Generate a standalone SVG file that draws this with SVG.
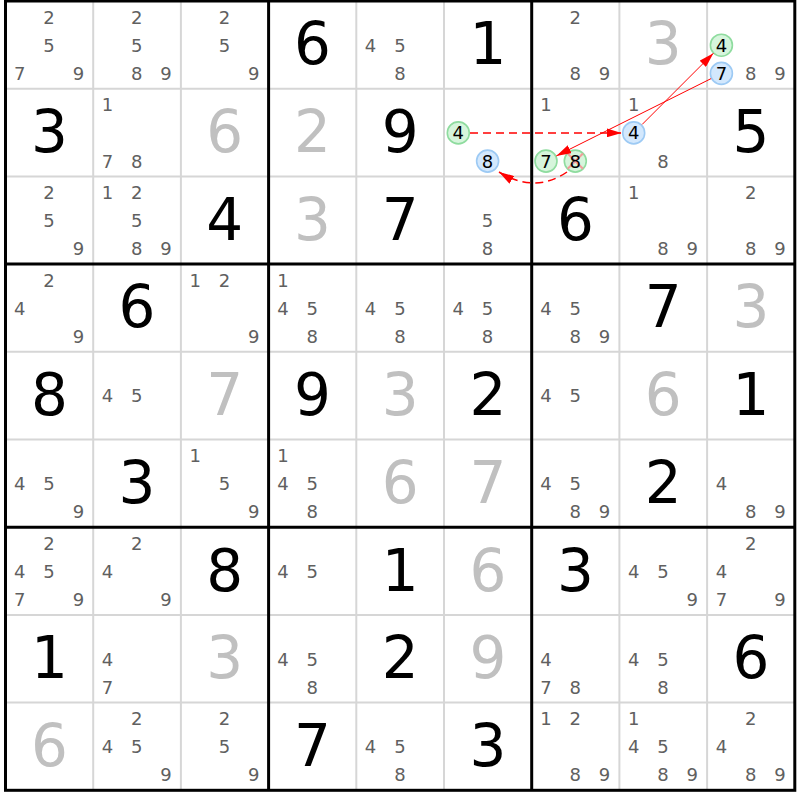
<svg xmlns="http://www.w3.org/2000/svg" width="800" height="800" viewBox="0 0 800 800">
<style>
.thin{stroke:#d6d6d6;stroke-width:2}
.thick{stroke:#000;stroke-width:3}
text{font-family:"DejaVu Sans","Liberation Sans",sans-serif}
.g{font-size:58px;fill:#000;text-anchor:middle}
.s{font-size:58px;fill:#c0c0c0;text-anchor:middle}
.c{font-size:18px;fill:#606060;text-anchor:middle}
.k{font-size:18px;fill:#000;text-anchor:middle}
.gc{fill:#d6f5dc;stroke:#8fdc9f;stroke-width:1.6}
.bc{fill:#d3e8fd;stroke:#9dcaf4;stroke-width:1.6}
.x{stroke:#f29a9a;stroke-width:2}
.ar{stroke:#ff0000;stroke-width:1;fill:none}
.ad{stroke:#ff0000;stroke-width:1.5;fill:none;stroke-dasharray:8 5}
</style>
<defs>
<marker id="ah" viewBox="0 0 15 9" refX="15" refY="4.5" markerWidth="15" markerHeight="9" markerUnits="userSpaceOnUse" orient="auto">
<path d="M0,0 L15,4.5 L0,9 z" fill="#ff0000"/>
</marker>
</defs>
<rect width="800" height="800" fill="#fff"/>
<g id="grid">
<line class="thin" x1="93.2" y1="1" x2="93.2" y2="790.3"/>
<line class="thin" x1="180.9" y1="1" x2="180.9" y2="790.3"/>
<line class="thin" x1="356.3" y1="1" x2="356.3" y2="790.3"/>
<line class="thin" x1="444" y1="1" x2="444" y2="790.3"/>
<line class="thin" x1="619.4" y1="1" x2="619.4" y2="790.3"/>
<line class="thin" x1="707.1" y1="1" x2="707.1" y2="790.3"/>
<line class="thin" x1="5.5" y1="88.7" x2="794.8" y2="88.7"/>
<line class="thin" x1="5.5" y1="176.4" x2="794.8" y2="176.4"/>
<line class="thin" x1="5.5" y1="351.8" x2="794.8" y2="351.8"/>
<line class="thin" x1="5.5" y1="439.5" x2="794.8" y2="439.5"/>
<line class="thin" x1="5.5" y1="614.9" x2="794.8" y2="614.9"/>
<line class="thin" x1="5.5" y1="702.6" x2="794.8" y2="702.6"/>
<line class="thick" x1="268.6" y1="1" x2="268.6" y2="790.3"/>
<line class="thick" x1="531.7" y1="1" x2="531.7" y2="790.3"/>
<line class="thick" x1="5.5" y1="264.1" x2="794.8" y2="264.1"/>
<line class="thick" x1="5.5" y1="527.2" x2="794.8" y2="527.2"/>
<rect x="5.5" y="1" width="789.3" height="789.3" fill="none" stroke="#000" stroke-width="3"/>
</g>
<!-- Row 1 -->
<g id="r1c1" transform="translate(5.5,1)"><text class="c" x="43.6" y="22.5">2</text><text class="c" x="43.6" y="50.7">5</text><text class="c" x="14.3" y="78.9">7</text><text class="c" x="72.9" y="78.9">9</text></g>
<g id="r1c2" transform="translate(93.2,1)"><text class="c" x="43.6" y="22.5">2</text><text class="c" x="43.6" y="50.7">5</text><text class="c" x="43.6" y="78.9">8</text><text class="c" x="72.9" y="78.9">9</text></g>
<g id="r1c3" transform="translate(180.9,1)"><text class="c" x="43.6" y="22.5">2</text><text class="c" x="43.6" y="50.7">5</text><text class="c" x="72.9" y="78.9">9</text></g>
<g id="r1c4" transform="translate(268.6,1)"><text class="g" x="43.85" y="63.35">6</text></g>
<g id="r1c5" transform="translate(356.3,1)"><text class="c" x="14.3" y="50.7">4</text><text class="c" x="43.6" y="50.7">5</text><text class="c" x="43.6" y="78.9">8</text></g>
<g id="r1c6" transform="translate(444,1)"><text class="g" x="43.85" y="63.35">1</text></g>
<g id="r1c7" transform="translate(531.7,1)"><text class="c" x="43.6" y="22.5">2</text><text class="c" x="43.6" y="78.9">8</text><text class="c" x="72.9" y="78.9">9</text></g>
<g id="r1c8" transform="translate(619.4,1)"><text class="s" x="43.85" y="63.35">3</text></g>
<g id="r1c9" transform="translate(707.1,1)"><circle class="gc" cx="14.3" cy="44.2" r="11"/><text class="k" x="14.3" y="50.7">4</text><circle class="bc" cx="14.3" cy="72.4" r="11"/><text class="k" x="14.3" y="78.9">7</text><text class="c" x="43.6" y="78.9">8</text><text class="c" x="72.9" y="78.9">9</text></g>
<!-- Row 2 -->
<g id="r2c1" transform="translate(5.5,88.7)"><text class="g" x="43.85" y="63.35">3</text></g>
<g id="r2c2" transform="translate(93.2,88.7)"><text class="c" x="14.3" y="22.5">1</text><text class="c" x="14.3" y="78.9">7</text><text class="c" x="43.6" y="78.9">8</text></g>
<g id="r2c3" transform="translate(180.9,88.7)"><text class="s" x="43.85" y="63.35">6</text></g>
<g id="r2c4" transform="translate(268.6,88.7)"><text class="s" x="43.85" y="63.35">2</text></g>
<g id="r2c5" transform="translate(356.3,88.7)"><text class="g" x="43.85" y="63.35">9</text></g>
<g id="r2c6" transform="translate(444,88.7)"><circle class="gc" cx="14.3" cy="44.2" r="11"/><text class="k" x="14.3" y="50.7">4</text><circle class="bc" cx="43.6" cy="72.4" r="11"/><text class="k" x="43.6" y="78.9">8</text></g>
<g id="r2c7" transform="translate(531.7,88.7)"><text class="c" x="14.3" y="22.5">1</text><circle class="gc" cx="14.3" cy="72.4" r="11"/><text class="k" x="14.3" y="78.9">7</text><circle class="gc" cx="43.6" cy="72.4" r="11"/><line class="x" x1="36" y1="64.8" x2="51.2" y2="80"/><line class="x" x1="51.2" y1="64.8" x2="36" y2="80"/><text class="k" x="43.6" y="78.9">8</text></g>
<g id="r2c8" transform="translate(619.4,88.7)"><text class="c" x="14.3" y="22.5">1</text><circle class="bc" cx="14.3" cy="44.2" r="11"/><text class="k" x="14.3" y="50.7">4</text><text class="c" x="43.6" y="78.9">8</text></g>
<g id="r2c9" transform="translate(707.1,88.7)"><text class="g" x="43.85" y="63.35">5</text></g>
<!-- Row 3 -->
<g id="r3c1" transform="translate(5.5,176.4)"><text class="c" x="43.6" y="22.5">2</text><text class="c" x="43.6" y="50.7">5</text><text class="c" x="72.9" y="78.9">9</text></g>
<g id="r3c2" transform="translate(93.2,176.4)"><text class="c" x="14.3" y="22.5">1</text><text class="c" x="43.6" y="22.5">2</text><text class="c" x="43.6" y="50.7">5</text><text class="c" x="43.6" y="78.9">8</text><text class="c" x="72.9" y="78.9">9</text></g>
<g id="r3c3" transform="translate(180.9,176.4)"><text class="g" x="43.85" y="63.35">4</text></g>
<g id="r3c4" transform="translate(268.6,176.4)"><text class="s" x="43.85" y="63.35">3</text></g>
<g id="r3c5" transform="translate(356.3,176.4)"><text class="g" x="43.85" y="63.35">7</text></g>
<g id="r3c6" transform="translate(444,176.4)"><text class="c" x="43.6" y="50.7">5</text><text class="c" x="43.6" y="78.9">8</text></g>
<g id="r3c7" transform="translate(531.7,176.4)"><text class="g" x="43.85" y="63.35">6</text></g>
<g id="r3c8" transform="translate(619.4,176.4)"><text class="c" x="14.3" y="22.5">1</text><text class="c" x="43.6" y="78.9">8</text><text class="c" x="72.9" y="78.9">9</text></g>
<g id="r3c9" transform="translate(707.1,176.4)"><text class="c" x="43.6" y="22.5">2</text><text class="c" x="43.6" y="78.9">8</text><text class="c" x="72.9" y="78.9">9</text></g>
<!-- Row 4 -->
<g id="r4c1" transform="translate(5.5,264.1)"><text class="c" x="43.6" y="22.5">2</text><text class="c" x="14.3" y="50.7">4</text><text class="c" x="72.9" y="78.9">9</text></g>
<g id="r4c2" transform="translate(93.2,264.1)"><text class="g" x="43.85" y="63.35">6</text></g>
<g id="r4c3" transform="translate(180.9,264.1)"><text class="c" x="14.3" y="22.5">1</text><text class="c" x="43.6" y="22.5">2</text><text class="c" x="72.9" y="78.9">9</text></g>
<g id="r4c4" transform="translate(268.6,264.1)"><text class="c" x="14.3" y="22.5">1</text><text class="c" x="14.3" y="50.7">4</text><text class="c" x="43.6" y="50.7">5</text><text class="c" x="43.6" y="78.9">8</text></g>
<g id="r4c5" transform="translate(356.3,264.1)"><text class="c" x="14.3" y="50.7">4</text><text class="c" x="43.6" y="50.7">5</text><text class="c" x="43.6" y="78.9">8</text></g>
<g id="r4c6" transform="translate(444,264.1)"><text class="c" x="14.3" y="50.7">4</text><text class="c" x="43.6" y="50.7">5</text><text class="c" x="43.6" y="78.9">8</text></g>
<g id="r4c7" transform="translate(531.7,264.1)"><text class="c" x="14.3" y="50.7">4</text><text class="c" x="43.6" y="50.7">5</text><text class="c" x="43.6" y="78.9">8</text><text class="c" x="72.9" y="78.9">9</text></g>
<g id="r4c8" transform="translate(619.4,264.1)"><text class="g" x="43.85" y="63.35">7</text></g>
<g id="r4c9" transform="translate(707.1,264.1)"><text class="s" x="43.85" y="63.35">3</text></g>
<!-- Row 5 -->
<g id="r5c1" transform="translate(5.5,351.8)"><text class="g" x="43.85" y="63.35">8</text></g>
<g id="r5c2" transform="translate(93.2,351.8)"><text class="c" x="14.3" y="50.7">4</text><text class="c" x="43.6" y="50.7">5</text></g>
<g id="r5c3" transform="translate(180.9,351.8)"><text class="s" x="43.85" y="63.35">7</text></g>
<g id="r5c4" transform="translate(268.6,351.8)"><text class="g" x="43.85" y="63.35">9</text></g>
<g id="r5c5" transform="translate(356.3,351.8)"><text class="s" x="43.85" y="63.35">3</text></g>
<g id="r5c6" transform="translate(444,351.8)"><text class="g" x="43.85" y="63.35">2</text></g>
<g id="r5c7" transform="translate(531.7,351.8)"><text class="c" x="14.3" y="50.7">4</text><text class="c" x="43.6" y="50.7">5</text></g>
<g id="r5c8" transform="translate(619.4,351.8)"><text class="s" x="43.85" y="63.35">6</text></g>
<g id="r5c9" transform="translate(707.1,351.8)"><text class="g" x="43.85" y="63.35">1</text></g>
<!-- Row 6 -->
<g id="r6c1" transform="translate(5.5,439.5)"><text class="c" x="14.3" y="50.7">4</text><text class="c" x="43.6" y="50.7">5</text><text class="c" x="72.9" y="78.9">9</text></g>
<g id="r6c2" transform="translate(93.2,439.5)"><text class="g" x="43.85" y="63.35">3</text></g>
<g id="r6c3" transform="translate(180.9,439.5)"><text class="c" x="14.3" y="22.5">1</text><text class="c" x="43.6" y="50.7">5</text><text class="c" x="72.9" y="78.9">9</text></g>
<g id="r6c4" transform="translate(268.6,439.5)"><text class="c" x="14.3" y="22.5">1</text><text class="c" x="14.3" y="50.7">4</text><text class="c" x="43.6" y="50.7">5</text><text class="c" x="43.6" y="78.9">8</text></g>
<g id="r6c5" transform="translate(356.3,439.5)"><text class="s" x="43.85" y="63.35">6</text></g>
<g id="r6c6" transform="translate(444,439.5)"><text class="s" x="43.85" y="63.35">7</text></g>
<g id="r6c7" transform="translate(531.7,439.5)"><text class="c" x="14.3" y="50.7">4</text><text class="c" x="43.6" y="50.7">5</text><text class="c" x="43.6" y="78.9">8</text><text class="c" x="72.9" y="78.9">9</text></g>
<g id="r6c8" transform="translate(619.4,439.5)"><text class="g" x="43.85" y="63.35">2</text></g>
<g id="r6c9" transform="translate(707.1,439.5)"><text class="c" x="14.3" y="50.7">4</text><text class="c" x="43.6" y="78.9">8</text><text class="c" x="72.9" y="78.9">9</text></g>
<!-- Row 7 -->
<g id="r7c1" transform="translate(5.5,527.2)"><text class="c" x="43.6" y="22.5">2</text><text class="c" x="14.3" y="50.7">4</text><text class="c" x="43.6" y="50.7">5</text><text class="c" x="14.3" y="78.9">7</text><text class="c" x="72.9" y="78.9">9</text></g>
<g id="r7c2" transform="translate(93.2,527.2)"><text class="c" x="43.6" y="22.5">2</text><text class="c" x="14.3" y="50.7">4</text><text class="c" x="72.9" y="78.9">9</text></g>
<g id="r7c3" transform="translate(180.9,527.2)"><text class="g" x="43.85" y="63.35">8</text></g>
<g id="r7c4" transform="translate(268.6,527.2)"><text class="c" x="14.3" y="50.7">4</text><text class="c" x="43.6" y="50.7">5</text></g>
<g id="r7c5" transform="translate(356.3,527.2)"><text class="g" x="43.85" y="63.35">1</text></g>
<g id="r7c6" transform="translate(444,527.2)"><text class="s" x="43.85" y="63.35">6</text></g>
<g id="r7c7" transform="translate(531.7,527.2)"><text class="g" x="43.85" y="63.35">3</text></g>
<g id="r7c8" transform="translate(619.4,527.2)"><text class="c" x="14.3" y="50.7">4</text><text class="c" x="43.6" y="50.7">5</text><text class="c" x="72.9" y="78.9">9</text></g>
<g id="r7c9" transform="translate(707.1,527.2)"><text class="c" x="43.6" y="22.5">2</text><text class="c" x="14.3" y="50.7">4</text><text class="c" x="14.3" y="78.9">7</text><text class="c" x="72.9" y="78.9">9</text></g>
<!-- Row 8 -->
<g id="r8c1" transform="translate(5.5,614.9)"><text class="g" x="43.85" y="63.35">1</text></g>
<g id="r8c2" transform="translate(93.2,614.9)"><text class="c" x="14.3" y="50.7">4</text><text class="c" x="14.3" y="78.9">7</text></g>
<g id="r8c3" transform="translate(180.9,614.9)"><text class="s" x="43.85" y="63.35">3</text></g>
<g id="r8c4" transform="translate(268.6,614.9)"><text class="c" x="14.3" y="50.7">4</text><text class="c" x="43.6" y="50.7">5</text><text class="c" x="43.6" y="78.9">8</text></g>
<g id="r8c5" transform="translate(356.3,614.9)"><text class="g" x="43.85" y="63.35">2</text></g>
<g id="r8c6" transform="translate(444,614.9)"><text class="s" x="43.85" y="63.35">9</text></g>
<g id="r8c7" transform="translate(531.7,614.9)"><text class="c" x="14.3" y="50.7">4</text><text class="c" x="14.3" y="78.9">7</text><text class="c" x="43.6" y="78.9">8</text></g>
<g id="r8c8" transform="translate(619.4,614.9)"><text class="c" x="14.3" y="50.7">4</text><text class="c" x="43.6" y="50.7">5</text><text class="c" x="43.6" y="78.9">8</text></g>
<g id="r8c9" transform="translate(707.1,614.9)"><text class="g" x="43.85" y="63.35">6</text></g>
<!-- Row 9 -->
<g id="r9c1" transform="translate(5.5,702.6)"><text class="s" x="43.85" y="63.35">6</text></g>
<g id="r9c2" transform="translate(93.2,702.6)"><text class="c" x="43.6" y="22.5">2</text><text class="c" x="14.3" y="50.7">4</text><text class="c" x="43.6" y="50.7">5</text><text class="c" x="72.9" y="78.9">9</text></g>
<g id="r9c3" transform="translate(180.9,702.6)"><text class="c" x="43.6" y="22.5">2</text><text class="c" x="43.6" y="50.7">5</text><text class="c" x="72.9" y="78.9">9</text></g>
<g id="r9c4" transform="translate(268.6,702.6)"><text class="g" x="43.85" y="63.35">7</text></g>
<g id="r9c5" transform="translate(356.3,702.6)"><text class="c" x="14.3" y="50.7">4</text><text class="c" x="43.6" y="50.7">5</text><text class="c" x="43.6" y="78.9">8</text></g>
<g id="r9c6" transform="translate(444,702.6)"><text class="g" x="43.85" y="63.35">3</text></g>
<g id="r9c7" transform="translate(531.7,702.6)"><text class="c" x="14.3" y="22.5">1</text><text class="c" x="43.6" y="22.5">2</text><text class="c" x="43.6" y="78.9">8</text><text class="c" x="72.9" y="78.9">9</text></g>
<g id="r9c8" transform="translate(619.4,702.6)"><text class="c" x="14.3" y="22.5">1</text><text class="c" x="14.3" y="50.7">4</text><text class="c" x="43.6" y="50.7">5</text><text class="c" x="43.6" y="78.9">8</text><text class="c" x="72.9" y="78.9">9</text></g>
<g id="r9c9" transform="translate(707.1,702.6)"><text class="c" x="43.6" y="22.5">2</text><text class="c" x="14.3" y="50.7">4</text><text class="c" x="43.6" y="78.9">8</text><text class="c" x="72.9" y="78.9">9</text></g>
<g id="connectors">
<line class="ad" x1="470" y1="132.9" x2="621.5" y2="132.9" marker-end="url(#ah)"/>
<line class="ar" x1="642.2" y1="124.4" x2="713.4" y2="53.2" marker-end="url(#ah)"/>
<line class="ar" x1="711.1" y1="78.6" x2="556.3" y2="155.9" marker-end="url(#ah)"/>
<path class="ad" d="M567,172 Q535,194 499,172" marker-end="url(#ah)"/>
</g>
</svg>
